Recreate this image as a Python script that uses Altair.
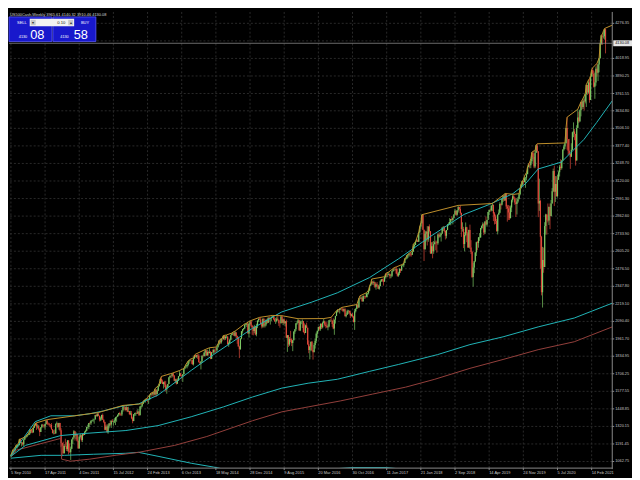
import altair as alt
import pandas as pd

# ---------------- weekly candles, US500Cash, first week = 5 Sep 2010 ----------------
first_open = 1104.5
close = [
 # 2010
 1109.6,1125.6,1148.7,1146.2,1165.2,1176.2,1183.1,1183.3,1225.9,1199.2,1199.7,1189.4,1224.7,1240.4,1243.9,1256.8,1257.6,
 # 2011
 1271.5,1293.2,1283.4,1276.3,1310.9,1329.2,1343.0,1319.9,1321.2,1304.3,1279.2,1313.8,1332.4,1328.2,1319.7,1337.4,1363.6,1340.2,1337.8,1333.3,1331.1,1300.2,1271.0,1271.5,1268.5,1339.7,1343.8,1316.1,1345.0,1292.3,1199.4,1178.8,1123.5,1176.8,1174.0,1154.2,1216.0,1136.4,1131.4,1155.5,1224.6,1238.3,1285.1,1253.2,1263.9,1215.7,1158.7,1244.3,1255.2,1219.7,1265.3,1257.6,
 # 2012
 1277.8,1289.1,1315.4,1316.3,1344.9,1342.6,1361.2,1365.7,1369.6,1370.9,1404.2,1397.1,1408.5,1398.1,1370.3,1378.5,1403.4,1369.1,1353.4,1295.2,1317.8,1278.0,1325.7,1342.8,1335.0,1362.2,1354.7,1356.8,1362.7,1386.0,1391.0,1405.9,1418.2,1411.1,1406.6,1437.9,1465.8,1460.2,1440.7,1460.9,1428.6,1433.2,1411.9,1414.2,1379.9,1359.9,1409.2,1416.2,1418.1,1413.6,1430.2,1402.4,
 # 2013
 1466.5,1472.1,1486.0,1503.0,1513.2,1517.9,1519.8,1515.6,1518.2,1551.2,1560.7,1556.9,1569.2,1553.3,1588.9,1555.3,1582.2,1614.4,1633.7,1667.5,1649.6,1630.7,1643.4,1626.7,1592.4,1606.3,1631.9,1680.2,1692.1,1691.7,1709.7,1691.4,1655.8,1663.5,1633.0,1655.2,1688.0,1709.9,1691.8,1690.5,1703.2,1744.5,1759.8,1761.6,1770.6,1798.2,1804.8,1805.8,1805.1,1775.3,1818.3,1841.4,
 # 2014
 1831.4,1842.4,1838.7,1790.3,1782.6,1797.0,1838.6,1836.3,1859.5,1878.0,1841.1,1866.5,1857.6,1865.1,1815.7,1864.9,1863.4,1881.1,1878.5,1877.9,1900.5,1923.6,1949.4,1936.2,1962.9,1961.0,1985.4,1967.6,1978.2,1978.3,1925.2,1931.6,1955.1,1988.4,2003.4,2007.7,1985.5,2010.4,1982.9,1967.9,1906.1,1886.8,1964.6,2018.1,2031.9,2039.8,2063.5,2067.6,2075.4,2002.3,2070.7,2088.8,
 # 2015
 2058.2,2044.8,2019.4,2051.8,1995.0,2055.5,2097.0,2110.3,2104.5,2071.3,2053.4,2108.1,2061.0,2067.0,2102.1,2081.2,2117.7,2108.3,2116.1,2122.7,2126.1,2107.4,2092.8,2094.1,2110.0,2101.5,2076.8,2076.6,2126.6,2079.7,2103.8,2077.6,2091.5,1970.9,1988.9,1921.2,1961.1,1958.1,1931.3,1951.4,2014.9,2033.1,2075.2,2079.4,2099.2,2023.0,2089.2,2090.1,2091.7,2012.4,2005.6,2061.0,2043.9,
 # 2016
 1922.0,1880.3,1906.9,1940.2,1880.1,1864.8,1917.8,1948.1,2000.0,2022.2,2049.6,2035.9,2072.8,2047.6,2080.7,2091.6,2065.3,2057.1,2046.6,2052.3,2099.1,2099.1,2096.1,2071.2,2037.4,2103.0,2129.9,2161.7,2175.0,2173.6,2182.9,2184.1,2183.9,2169.0,2180.0,2127.8,2139.2,2164.7,2168.3,2153.7,2133.0,2141.2,2126.4,2085.2,2164.5,2181.9,2213.4,2192.0,2259.5,2258.1,2263.8,2238.8,
 # 2017
 2277.0,2274.6,2271.3,2294.7,2297.4,2316.1,2351.2,2367.3,2383.1,2372.6,2378.3,2344.0,2362.7,2355.5,2329.0,2348.7,2384.2,2399.3,2390.9,2381.7,2415.8,2439.1,2431.8,2433.2,2438.3,2423.4,2425.2,2459.3,2472.5,2472.1,2476.8,2441.3,2425.6,2443.1,2476.6,2461.4,2500.2,2502.2,2519.4,2549.3,2553.2,2575.2,2581.1,2587.8,2582.3,2578.9,2602.4,2642.2,2651.5,2675.8,2683.3,2673.6,
 # 2018
 2743.2,2786.2,2810.3,2872.9,2762.1,2619.6,2732.2,2747.3,2691.3,2786.6,2752.0,2588.3,2640.9,2604.5,2656.3,2670.1,2669.9,2663.4,2727.7,2713.0,2721.3,2734.6,2779.0,2779.4,2754.9,2718.4,2759.8,2801.3,2801.8,2818.8,2840.4,2833.3,2850.1,2874.7,2901.5,2871.7,2905.0,2929.7,2914.0,2885.6,2767.1,2767.8,2658.7,2723.1,2781.0,2736.3,2632.6,2760.2,2633.1,2600.0,2416.6,2485.7,
 # 2019
 2531.9,2596.3,2670.7,2664.8,2706.5,2707.9,2775.6,2792.7,2803.7,2743.1,2822.5,2800.7,2834.4,2892.7,2907.4,2905.0,2939.9,2945.6,2881.4,2859.5,2826.1,2752.1,2873.3,2887.0,2950.5,2941.8,2990.4,3013.8,2976.6,3025.9,2932.1,2918.7,2888.7,2847.1,2926.5,2978.7,3007.4,2992.1,2961.8,2952.0,2970.3,2986.2,3022.6,3066.9,3093.1,3120.5,3110.3,3141.0,3145.9,3168.8,3221.2,3240.0,
 # 2020
 3234.9,3265.4,3329.6,3295.5,3225.5,3327.7,3380.2,3337.8,2954.2,2972.4,2711.0,2304.9,2541.5,2488.7,2789.8,2874.6,2836.7,2830.7,2929.8,2863.7,2955.5,3044.3,3193.9,3041.3,3097.7,3009.1,3130.0,3185.0,3224.7,3215.6,3271.1,3351.3,3372.9,3397.2,3508.0,3427.0,3341.0,3319.5,3298.5,3348.4,3477.1,3483.8,3465.4,3270.0,3509.4,3585.2,3557.5,3638.4,3699.1,3663.5,3709.4,3703.1,3756.1,
 # 2021
 3824.7,3768.3,3841.5,3714.2,3886.8,3934.8,3906.7,3811.2,3841.9,3943.3,3913.1,3974.5,4019.9,4128.8,4185.5,4180.2,4181.2,4232.6,4130.1,
]
high = [
 1112,1131,1149,1158,1168,1184,1189,1196,1227,1228,1207,1205,1226,1241,1247,1259,1262,
 1278,1294,1296,1302,1311,1330,1344,1344,1336,1331,1305,1314,1338,1339,1329,1339,1364,1370,1349,1346,1334,1345,1300,1292,1298,1341,1356,1343,1347,1346,1307,1200,1208,1190,1230,1205,1220,1220,1195,1172,1225,1239,1293,1285,1277,1264,1216,1254,1267,1256,1267,1270,
 1285,1297,1316,1333,1345,1354,1364,1368,1378,1373,1405,1414,1420,1422,1399,1392,1406,1415,1372,1355,1329,1336,1335,1343,1364,1363,1374,1362,1380,1390,1394,1407,1419,1427,1413,1438,1474,1467,1464,1470,1464,1464,1434,1434,1433,1391,1410,1420,1423,1438,1448,1431,
 1468,1473,1486,1503,1514,1518,1525,1531,1526,1553,1564,1563,1570,1573,1597,1594,1592,1618,1635,1668,1687,1663,1648,1654,1654,1620,1632,1680,1693,1698,1710,1710,1697,1670,1670,1672,1690,1730,1711,1696,1704,1745,1760,1776,1774,1799,1806,1813,1810,1810,1823,1844,
 1850,1843,1850,1850,1795,1798,1841,1847,1867,1884,1879,1883,1875,1897,1873,1865,1884,1891,1889,1902,1901,1924,1950,1955,1963,1968,1986,1986,1984,1991,1984,1942,1964,1993,2005,2012,2010,2019,2009,1986,1977,1912,1965,2019,2034,2042,2072,2075,2079,2077,2077,2094,
 2093,2065,2056,2065,2058,2073,2097,2110,2120,2118,2081,2114,2115,2089,2103,2111,2120,2126,2117,2127,2134,2129,2122,2115,2126,2129,2101,2082,2129,2132,2110,2113,2093,2103,1990,1989,1975,2021,1966,1952,2020,2033,2079,2094,2110,2100,2097,2095,2104,2093,2076,2067,2081,
 2044,1951,1909,1941,1947,1881,1931,1963,2009,2022,2052,2056,2075,2075,2087,2111,2096,2083,2085,2068,2100,2106,2120,2096,2113,2105,2131,2169,2176,2178,2183,2188,2193,2187,2184,2187,2150,2176,2175,2169,2169,2147,2152,2131,2182,2189,2214,2214,2260,2278,2273,2273,
 2282,2280,2277,2300,2300,2320,2352,2368,2401,2384,2390,2381,2370,2379,2356,2362,2392,2400,2403,2406,2418,2440,2446,2445,2453,2442,2436,2463,2478,2484,2478,2490,2474,2454,2480,2468,2501,2509,2520,2552,2557,2576,2582,2589,2597,2590,2605,2657,2665,2676,2695,2692,
 2744,2787,2811,2873,2873,2763,2755,2754,2790,2787,2802,2753,2671,2674,2680,2718,2683,2682,2733,2742,2743,2736,2780,2790,2789,2755,2760,2805,2816,2848,2841,2863,2851,2876,2916,2902,2906,2941,2931,2940,2888,2817,2784,2745,2816,2784,2746,2763,2800,2686,2605,2520,
 2534,2598,2675,2681,2709,2738,2776,2793,2817,2812,2824,2860,2836,2894,2910,2918,2940,2955,2946,2892,2873,2841,2876,2911,2964,2958,2996,3014,3017,3028,3027,2945,2944,2939,2940,2985,3021,3022,3002,2993,2993,3003,3027,3067,3098,3121,3128,3155,3146,3183,3226,3248,
 3258,3282,3330,3338,3320,3342,3385,3393,3338,3137,2983,2718,2637,2632,2818,2880,2875,2955,2933,2955,2981,3068,3211,3233,3156,3155,3165,3197,3238,3280,3273,3352,3387,3399,3509,3588,3428,3429,3320,3397,3482,3550,3502,3466,3529,3646,3628,3646,3700,3712,3727,3723,3760,
 3827,3825,3860,3871,3893,3937,3950,3928,3915,3960,3983,3978,4021,4130,4191,4195,4219,4238,4237,
]
low = [
 1092,1107,1122,1131,1132,1160,1159,1171,1180,1194,1173,1180,1174,1220,1233,1241,1251,
 1257,1262,1271,1270,1276,1311,1324,1294,1304,1291,1249,1280,1307,1322,1309,1295,1335,1330,1328,1318,1312,1296,1268,1262,1263,1268,1334,1309,1296,1283,1168,1101,1121,1122,1172,1140,1137,1114,1128,1074,1154,1191,1231,1216,1226,1209,1158,1158,1231,1209,1205,1251,
 1257,1275,1287,1306,1300,1335,1331,1357,1354,1340,1372,1391,1391,1395,1357,1359,1365,1368,1344,1292,1292,1277,1266,1306,1324,1309,1351,1325,1345,1330,1354,1391,1397,1400,1397,1396,1429,1449,1431,1438,1425,1428,1403,1403,1373,1343,1358,1397,1398,1411,1416,1398,
 1402,1451,1461,1484,1495,1495,1513,1497,1485,1517,1547,1538,1546,1539,1550,1536,1555,1579,1613,1632,1636,1630,1598,1608,1577,1560,1605,1632,1673,1676,1679,1684,1654,1640,1627,1633,1655,1688,1687,1670,1646,1701,1740,1752,1746,1760,1780,1798,1779,1772,1767,1818,
 1827,1822,1815,1790,1770,1738,1791,1825,1834,1834,1839,1839,1840,1858,1813,1814,1859,1850,1859,1862,1868,1899,1915,1925,1926,1944,1956,1952,1955,1966,1916,1904,1928,1952,1990,1991,1983,1978,1965,1926,1905,1821,1883,1959,2001,2025,2034,2062,2049,2002,1972,2066,
 2046,1992,1988,2004,1989,1981,2041,2085,2102,2066,2039,2044,2046,2046,2055,2073,2079,2085,2067,2093,2115,2099,2086,2072,2084,2098,2057,2044,2076,2077,2063,2071,2053,1970,1867,1903,1911,1938,1909,1872,1951,1999,2019,2066,2080,2023,2019,2070,2042,2008,1994,2005,2043,
 1918,1857,1812,1872,1872,1810,1865,1891,1931,1969,2016,2023,2022,2034,2039,2076,2053,2039,2043,2025,2047,2086,2094,2050,2033,1992,2074,2129,2155,2157,2148,2174,2168,2160,2157,2127,2119,2139,2145,2142,2115,2126,2120,2083,2028,2156,2182,2187,2191,2250,2257,2234,
 2234,2255,2258,2266,2267,2288,2312,2350,2359,2358,2355,2335,2323,2344,2328,2322,2349,2379,2381,2353,2382,2405,2415,2415,2429,2405,2407,2416,2454,2459,2464,2437,2418,2417,2429,2446,2474,2496,2488,2519,2542,2547,2557,2566,2567,2566,2577,2601,2624,2652,2676,2673,
 2673,2737,2769,2808,2759,2533,2617,2676,2647,2674,2741,2586,2588,2553,2586,2656,2612,2594,2652,2701,2707,2676,2731,2753,2743,2691,2699,2759,2791,2798,2795,2830,2802,2848,2874,2864,2866,2889,2903,2874,2710,2749,2628,2604,2715,2671,2631,2631,2621,2584,2409,2346,
 2444,2525,2570,2612,2631,2681,2702,2764,2773,2723,2731,2795,2785,2848,2872,2895,2897,2900,2826,2801,2805,2750,2728,2873,2883,2911,2952,2966,2973,2977,2914,2822,2834,2834,2847,2892,2963,2990,2946,2856,2874,2960,2992,3015,3066,3078,3092,3117,3070,3124,3174,3222,
 3213,3214,3251,3281,3214,3214,3327,3328,2855,2901,2478,2281,2192,2447,2488,2727,2727,2816,2797,2767,2860,2955,3038,2936,2966,3004,2999,3128,3153,3200,3204,3271,3343,3355,3396,3350,3310,3314,3209,3298,3348,3441,3419,3233,3270,3511,3545,3552,3594,3645,3648,3637,3689,
 3663,3750,3760,3694,3714,3885,3885,3805,3723,3819,3885,3853,3917,4019,4118,4118,4165,4157,4056,
]

# ---------------- indicator lines (week index, price) ----------------
band_up_w = [0,22.8,37.4,59.3,73.9,86.7,105,119.6,137.8,168.9,189.9,226.4,253.8,281.2,305.8,336.0,363.3,393.5,424.5,448.2,470.2,482.0,493.9,515.8,524.9,536.8,548.7,563.3]
band_up_p = [1108,1355,1398,1398,1413,1434,1470,1485,1550,1731,1847,2040,2160,2230,2300,2412,2550,2716,2875,2948,3027,3100,3208,3259,3331,3425,3549,3708]
band_mid_w = [0,13.7,46.6,68.5,107.7,137.8,168.9,199.0,226.4,253.8,278.4,305.8,336.0,363.3,399.8,430.0,461.0,493.9,527.7,563.3]
band_mid_p = [1101,1181,1253,1268,1290,1326,1391,1463,1536,1601,1637,1666,1724,1775,1847,1920,1977,2050,2115,2224]
band_low_w = [0,28.3,50.2,77.6,107.7,119.6,137.8,168.9,189.9,208.1,235.5,262.9,290.3,320.4,351.5,372.5,399.8,454.6,509.4,563.3]
band_low_p = [1087,1108,1108,1116,1123,1130,1101,1050,1022,993,942,935,1003,1018,1018,1003,956,884,797,689]
red_w = [0,4.6,46.6,47.5,55.7,73.9,98.6,119.6,153.4,183.5,226.4,253.8,278.4,308.6,338.7,369.7,397.1,430.0,461.0,493.9,527.7,563.3]
red_p = [1094,1145,1232,1080,1065,1080,1109,1130,1181,1246,1362,1427,1463,1507,1557,1608,1666,1746,1811,1883,1941,2050]
peak_w = [0,1,2,3,4,5,6,7,8,9,13,14,15,16,17,18,19,20,21,22,23,34,82,105,123,124,125,127,128,130,131,133,134,135,138,139,140,141,151,158,162,163,164,166,167,168,171,172,173,182,186,192,194,195,197,198,199,202,207,208,210,219,220,221,224,233,245,254,269,293,300,305,306,307,309,310,324,326,327,333,335,336,337,338,350,351,352,354,359,361,367,368,369,370,371,372,373,374,376,377,378,379,380,382,383,384,385,419,451,463,471,476,477,478,479,480,481,483,484,485,486,487,488,489,491,492,493,519,520,521,531,534,535,536,538,539,541,542,543,544,545,549,551,552,553,554,555,556,563]
peak_p = [1112,1131,1149,1158,1168,1184,1189,1196,1227,1228,1241,1247,1259,1262,1278,1294,1296,1302,1311,1330,1344,1370,1422,1474,1486,1503,1514,1525,1531,1553,1564,1570,1573,1597,1618,1635,1668,1687,1710,1730,1745,1760,1776,1799,1806,1813,1823,1844,1850,1884,1897,1902,1924,1950,1963,1968,1986,1991,2005,2012,2019,2072,2075,2079,2094,2120,2134,2132,2110,2111,2120,2169,2176,2178,2188,2193,2214,2260,2278,2300,2320,2352,2368,2401,2418,2440,2446,2453,2484,2490,2509,2520,2552,2557,2576,2582,2589,2597,2605,2657,2665,2676,2695,2743,2787,2811,2873,2941,2955,3028,3022,3027,3067,3098,3121,3128,3155,3183,3226,3248,3258,3282,3330,3338,3342,3385,3393,3399,3509,3588,3646,3700,3712,3727,3760,3827,3860,3871,3893,3937,3950,3983,4021,4130,4191,4195,4219,4238,4262]

# ---------------- axes / texts ----------------
x_tick_weeks = [0,32,64,96,128,160,192,224,256,288,320,352,384,416,448,480,512,544]
x_tick_labels = ["5 Sep 2010","17 Apr 2011","4 Dec 2011","15 Jul 2012","24 Feb 2013","6 Oct 2013",
                 "18 May 2014","28 Dec 2014","9 Aug 2015","20 Mar 2016","30 Oct 2016","11 Jun 2017",
                 "21 Jan 2018","2 Sep 2018","14 Apr 2019","24 Nov 2019","5 Jul 2020","14 Feb 2021"]
y_grid_values = [4276.35,4147.65,4018.95,3890.25,3761.55,3634.80,3506.10,3377.40,3248.70,3120.00,
                 2991.30,2862.60,2733.90,2605.20,2476.50,2347.80,2219.10,2090.40,1961.70,1834.95,
                 1706.25,1577.55,1448.85,1320.15,1191.45,1062.75]
y_label_values = [v for v in y_grid_values if v != 4147.65]
bid_price = 4130.08
header_text = "US500Cash,Weekly  3965.61 4140.32 3910.46 4130.08"
lot_text = "0.10"
sell_small, sell_big = "4130", "08"
buy_small, buy_big = "4130", "58"

# ---------------- layout ----------------
W, H = 611, 462
xs = alt.Scale(domain=[-1.8, 563.3], nice=False, zero=False)
ys = alt.Scale(domain=[1014.3, 4359.7], nice=False, zero=False)
UP, DN = "#7cc763", "#e0493a"
CYAN, RED, ORANGE = "#22b6b9", "#94403c", "#c0902c"
GRID = "#2a2a2a"
TXT = "#c8c8c8"
FONT = "Liberation Sans"

n = len(close)
candles = pd.DataFrame({"i": list(range(n)), "o": [first_open] + close[:-1],
                        "h": high, "l": low, "c": close})
one = pd.DataFrame({"k": [0]})

X = alt.X("i:Q", scale=xs, axis=None)
color_cond = alt.condition("datum.c >= datum.o", alt.value(UP), alt.value(DN))

def line_layer(ws, ps, col, width=1.0):
    df = pd.DataFrame({"i": ws, "v": ps})
    return alt.Chart(df).mark_line(color=col, strokeWidth=width, clip=True).encode(
        x=X, y=alt.Y("v:Q", scale=ys, axis=None))

grid_h = alt.Chart(pd.DataFrame({"v": y_grid_values})).mark_rule(
    color=GRID, strokeDash=[2, 2], strokeWidth=1).encode(y=alt.Y("v:Q", scale=ys, axis=None))
grid_v = alt.Chart(pd.DataFrame({"i": x_tick_weeks})).mark_rule(
    color=GRID, strokeDash=[2, 2], strokeWidth=1).encode(x=X)

wicks = alt.Chart(candles).mark_rule(strokeWidth=0.7, clip=True).encode(
    x=X, y=alt.Y("l:Q", scale=ys, axis=None), y2="h:Q", color=color_cond)
bodies = alt.Chart(candles).mark_rule(strokeWidth=1.2, clip=True).encode(
    x=X, y=alt.Y("o:Q", scale=ys, axis=None), y2="c:Q", color=color_cond)

price_line = alt.Chart(pd.DataFrame({"v": [bid_price]})).mark_rule(
    color="#9a9a9a", strokeWidth=0.7).encode(y=alt.Y("v:Q", scale=ys, axis=None))

frame_r = alt.Chart(one).mark_rule(color="#8a8a8a", strokeWidth=1).encode(
    x=alt.value(W), y=alt.value(0), y2=alt.value(H + 1))
frame_b = alt.Chart(one).mark_rule(color="#8a8a8a", strokeWidth=1).encode(
    x=alt.value(0), x2=alt.value(W), y=alt.value(H))

ytick_df = pd.DataFrame({"v": y_label_values, "t": [f"{v:.2f}" for v in y_label_values]})
y_ticks = alt.Chart(ytick_df).mark_rule(color="#8a8a8a").encode(
    y=alt.Y("v:Q", scale=ys, axis=None), x=alt.value(W), x2=alt.value(W + 2))
y_text = alt.Chart(ytick_df).mark_text(align="left", baseline="middle", fontSize=3.9,
                                       font=FONT, color=TXT).encode(
    y=alt.Y("v:Q", scale=ys, axis=None), x=alt.value(W + 3), text="t:N")

xtick_df = pd.DataFrame({"i": x_tick_weeks, "t": x_tick_labels})
x_ticks = alt.Chart(xtick_df).mark_rule(color="#8a8a8a").encode(
    x=X, y=alt.value(H), y2=alt.value(H + 2))
x_text = alt.Chart(xtick_df).mark_text(align="left", baseline="top", fontSize=4.0,
                                       font=FONT, color=TXT).encode(
    x=X, y=alt.value(H + 3), text="t:N")

half = (ys.domain[1] - ys.domain[0]) / H * 3.0
plabel_df = pd.DataFrame({"top": [bid_price + half], "bot": [bid_price - half],
                          "v": [bid_price], "t": [f"{bid_price:.2f}"]})
plabel_box = alt.Chart(plabel_df).mark_rect(color="#e6e6e6").encode(
    x=alt.value(W + 1), x2=alt.value(W + 20),
    y=alt.Y("top:Q", scale=ys, axis=None), y2="bot:Q")
plabel_txt = alt.Chart(plabel_df).mark_text(align="left", baseline="middle", fontSize=3.9,
                                            font=FONT, color="#000000").encode(
    x=alt.value(W + 3), y=alt.Y("v:Q", scale=ys, axis=None), text="t:N")

# header + one-click trading panel
def txt(x, y, s, size, col="#ffffff", align="left", weight="normal", baseline="middle"):
    return alt.Chart(one).mark_text(align=align, baseline=baseline, fontSize=size, font=FONT,
                                    color=col, fontWeight=weight).encode(
        x=alt.value(x), y=alt.value(y), text=alt.value(s))

def box(x1, x2, y1, y2, fill, stroke=None):
    kw = dict(color=fill)
    if stroke:
        kw.update(stroke=stroke, strokeWidth=0.8)
    return alt.Chart(one).mark_rect(**kw).encode(
        x=alt.value(x1), x2=alt.value(x2), y=alt.value(y1), y2=alt.value(y2))

header = txt(1, 2.6, header_text, 4.0, col="#d8d8d8")
px0, py0 = 0, 5
panel = [
    box(px0, px0 + 43.5, py0, py0 + 25, "#1818cc", "#5a5aff"),
    box(px0 + 44.5, px0 + 88, py0, py0 + 25, "#1818cc", "#5a5aff"),
    box(px0 + 21, px0 + 66, py0 + 2, py0 + 9.5, "#f2f2f2"),
    box(px0 + 22, px0 + 27, py0 + 3, py0 + 8.5, "#c8c8c8"),
    box(px0 + 60, px0 + 65, py0 + 3, py0 + 8.5, "#c8c8c8"),
    txt(px0 + 24.5, py0 + 5.8, "▾", 4.0, col="#303030", align="center"),
    txt(px0 + 62.5, py0 + 5.8, "▴", 4.0, col="#303030", align="center"),
    txt(px0 + 57, py0 + 5.9, lot_text, 4.2, col="#202020", align="right"),
    txt(px0 + 13, py0 + 5.9, "SELL", 4.0, align="center"),
    txt(px0 + 77, py0 + 5.9, "BUY", 4.0, align="center"),
    txt(px0 + 10, py0 + 21, sell_small, 3.8, baseline="alphabetic"),
    txt(px0 + 21.5, py0 + 22.5, sell_big, 13, baseline="alphabetic"),
    txt(px0 + 52, py0 + 21, buy_small, 3.8, baseline="alphabetic"),
    txt(px0 + 65.5, py0 + 22.5, buy_big, 13, baseline="alphabetic"),
]

layers = [grid_h, grid_v,
          wicks, bodies,
          line_layer(band_low_w, band_low_p, CYAN),
          line_layer(red_w, red_p, RED),
          line_layer(band_mid_w, band_mid_p, CYAN),
          line_layer(band_up_w, band_up_p, CYAN),
          line_layer(peak_w, peak_p, ORANGE),
          price_line, frame_r, frame_b, y_ticks, y_text, x_ticks, x_text,
          plabel_box, plabel_txt, header] + panel

chart = alt.layer(*layers).properties(
    width=W, height=H, padding=0, background="#000000"
).configure_view(stroke=None)

chart.save("out.html", embed_options={"renderer": "svg", "actions": False})
